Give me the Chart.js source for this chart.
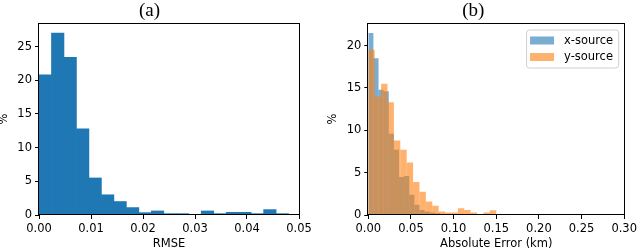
<!DOCTYPE html>
<html>
<head>
<meta charset="utf-8">
<script src="https://cdn.jsdelivr.net/npm/chart.js@4"></script>
<style>
  html, body { margin: 0; padding: 0; background: #fff; }
  .wrap { position: relative; width: 640px; height: 251px; }
  .panel { position: absolute; top: 0; }
</style>
</head>
<body>
<div class="wrap">
  <canvas id="chartA" class="panel" style="left:0" width="320" height="251"></canvas>
  <canvas id="chartB" class="panel" style="left:320px" width="320" height="251"></canvas>
</div>
<script>
// (a) RMSE histogram, 20 bins
const rmseEdges = [0.0000, 0.0024, 0.0048, 0.0072, 0.0096, 0.0120, 0.0144, 0.0168, 0.0192, 0.0216,
  0.0240, 0.0264, 0.0288, 0.0312, 0.0336, 0.0360, 0.0384, 0.0408, 0.0432, 0.0456, 0.0480];
const rmsePct = [20.8, 27.0, 23.4, 12.8, 5.5, 3.0, 2.0, 1.1, 0.35, 0.6,
  0.2, 0.2, 0.05, 0.6, 0.2, 0.4, 0.4, 0.2, 0.8, 0.2];

// (b) absolute error histograms (km)
const xSrcEdges = [0.000, 0.006, 0.012, 0.018, 0.024, 0.030, 0.036, 0.042, 0.048, 0.054,
  0.060, 0.066, 0.072, 0.078, 0.084, 0.090, 0.096, 0.102, 0.108, 0.114, 0.120];
const xSrcPct = [21.5, 18.5, 14.8, 14.6, 9.6, 7.7, 4.5, 4.6, 2.4, 1.2,
  0.6, 0.4, 0.3, 0.2, 0.1, 0.1, 0.05, 0.05, 0.05, 0.05];
const ySrcEdges = [0.0000, 0.0075, 0.0150, 0.0225, 0.0300, 0.0375, 0.0450, 0.0525, 0.0600, 0.0675,
  0.0750, 0.0825, 0.0900, 0.0975, 0.1050, 0.1125, 0.1200, 0.1275, 0.1350, 0.1425, 0.1500];
const ySrcPct = [19.5, 14.0, 15.5, 13.3, 8.8, 7.7, 6.2, 3.9, 2.75, 1.6,
  1.1, 0.4, 0.3, 0.3, 0.8, 0.6, 0.3, 0.1, 0.3, 0.55];

const BLUE = "#1f77b4";
const BLUE_A = "rgba(31,119,180,0.6)";
const ORANGE_A = "rgba(255,127,14,0.6)";

Chart.defaults.font.family = "'DejaVu Sans', sans-serif";
Chart.defaults.font.size = 11.5;
Chart.defaults.color = "#000";

const toBars = (edges, vals) =>
  vals.map((v, i) => ({ x: (edges[i] + edges[i + 1]) / 2, y: v }));

// black box round the plot area, like matplotlib spines
const frame = {
  id: "frame",
  afterDatasetsDraw(chart) {
    const { ctx, chartArea: a } = chart;
    ctx.save();
    ctx.strokeStyle = "#000";
    ctx.lineWidth = 1;
    ctx.strokeRect(Math.round(a.left) - 0.5, Math.round(a.top) + 0.5,
      Math.round(a.right - a.left) + 1, Math.round(a.bottom - a.top) - 1);
    ctx.restore();
  },
};

// legend drawn inside the upper right corner
const insideLegend = {
  id: "insideLegend",
  afterDraw(chart) {
    const { ctx, chartArea } = chart;
    const items = chart.data.datasets.map((d) => ({ text: d.label, color: d.backgroundColor }));
    ctx.save();
    ctx.font = "11.5px 'DejaVu Sans'";
    const textW = Math.max(...items.map((it) => ctx.measureText(it.text).width));
    const w = 4 + 24 + 10 + textW + 5;
    const h = 38;
    const x = chartArea.right - 6 - w;
    const y = chartArea.top + 6.5;
    ctx.fillStyle = "rgba(255,255,255,0.8)";
    ctx.strokeStyle = "#d0d0d0";
    ctx.lineWidth = 1;
    ctx.beginPath();
    ctx.roundRect(x + 0.5, y + 0.5, w, h, 3);
    ctx.fill();
    ctx.stroke();
    items.forEach((it, i) => {
      const cy = y + 11 + i * 16.5;
      ctx.fillStyle = it.color;
      ctx.fillRect(x + 4, cy - 4, 24, 8);
      ctx.fillStyle = "#000";
      ctx.textBaseline = "middle";
      ctx.fillText(it.text, x + 38, cy + 0.5);
    });
    ctx.restore();
  },
};

const tickGrid = { display: true, drawOnChartArea: false, drawTicks: true, tickLength: 4, color: "#000" };

new Chart(document.getElementById("chartA"), {
  type: "bar",
  data: {
    datasets: [{
      data: toBars(rmseEdges, rmsePct),
      backgroundColor: BLUE,
      borderWidth: 0,
      barPercentage: 1,
      categoryPercentage: 1,
    }],
  },
  options: {
    responsive: false,
    animation: false,
    layout: { padding: { top: 0, right: 21, bottom: 0, left: 0 } },
    plugins: {
      legend: { display: false },
      tooltip: { enabled: false },
      title: {
        display: true,
        text: "(a)",
        color: "#000",
        font: { family: "'Liberation Serif', serif", size: 19, weight: "normal", lineHeight: 1.2 },
        padding: { top: 0, bottom: 0.2 },
      },
    },
    scales: {
      x: {
        type: "linear",
        offset: false,
        min: 0,
        max: 0.05,
        grid: { ...tickGrid, offset: false },
        border: { display: false },
        ticks: { stepSize: 0.01, includeBounds: false, maxRotation: 0, padding: 3, callback: (v) => v.toFixed(2) },
        title: { display: true, text: "RMSE", font: { lineHeight: 1.2 }, padding: { top: 0, bottom: 0 } },
        afterFit: (s) => { s.height = 36; },
      },
      y: {
        min: 0,
        max: 28.5,
        grid: tickGrid,
        border: { display: false },
        ticks: { stepSize: 5, includeBounds: false, padding: 3 },
        title: { display: true, text: "%", font: { lineHeight: 0.7 }, padding: { top: 0, bottom: 0 } },
        afterFit: (s) => { s.width = 39; },
      },
    },
  },
  plugins: [frame],
});

new Chart(document.getElementById("chartB"), {
  type: "bar",
  data: {
    datasets: [
      {
        label: "x-source",
        data: toBars(xSrcEdges, xSrcPct),
        backgroundColor: BLUE_A,
        xAxisID: "xBlue",
        order: 2,
      },
      {
        label: "y-source",
        data: toBars(ySrcEdges, ySrcPct),
        backgroundColor: ORANGE_A,
        xAxisID: "xOrange",
        order: 1,
      },
    ],
  },
  options: {
    responsive: false,
    animation: false,
    datasets: {
      bar: { borderWidth: 0, barPercentage: 1, categoryPercentage: 1, grouped: false, inflateAmount: 0 },
    },
    layout: { padding: { top: 0, right: 13.3, bottom: 0, left: 0 } },
    plugins: {
      legend: { display: false },
      tooltip: { enabled: false },
      title: {
        display: true,
        text: "(b)",
        color: "#000",
        font: { family: "'Liberation Serif', serif", size: 19, weight: "normal", lineHeight: 1.2 },
        padding: { top: 0, bottom: 0.2 },
      },
    },
    scales: {
      x: {
        type: "linear",
        axis: "x",
        position: "bottom",
        offset: false,
        min: 0,
        max: 0.3,
        grid: { ...tickGrid, offset: false },
        border: { display: false },
        ticks: { stepSize: 0.05, includeBounds: false, maxRotation: 0, padding: 3, callback: (v) => v.toFixed(2) },
        title: { display: true, text: "Absolute Error (km)", font: { lineHeight: 1.2 }, padding: { top: 0, bottom: 0 } },
        afterFit: (s) => { s.height = 36; },
      },
      xBlue: { type: "linear", axis: "x", position: "bottom", display: false, offset: false, min: 0, max: 0.3, ticks: { stepSize: 0.05 } },
      xOrange: { type: "linear", axis: "x", position: "bottom", display: false, offset: false, min: 0, max: 0.3, ticks: { stepSize: 0.05 } },
      y: {
        axis: "y",
        position: "left",
        min: 0,
        max: 22.67,
        grid: tickGrid,
        border: { display: false },
        ticks: { stepSize: 5, includeBounds: false, padding: 3 },
        title: { display: true, text: "%", font: { lineHeight: 1 }, padding: { top: 7, bottom: 0 } },
        afterFit: (s) => { s.width = 48.3; },
      },
    },
  },
  plugins: [frame, insideLegend],
});
</script>
</body>
</html>
